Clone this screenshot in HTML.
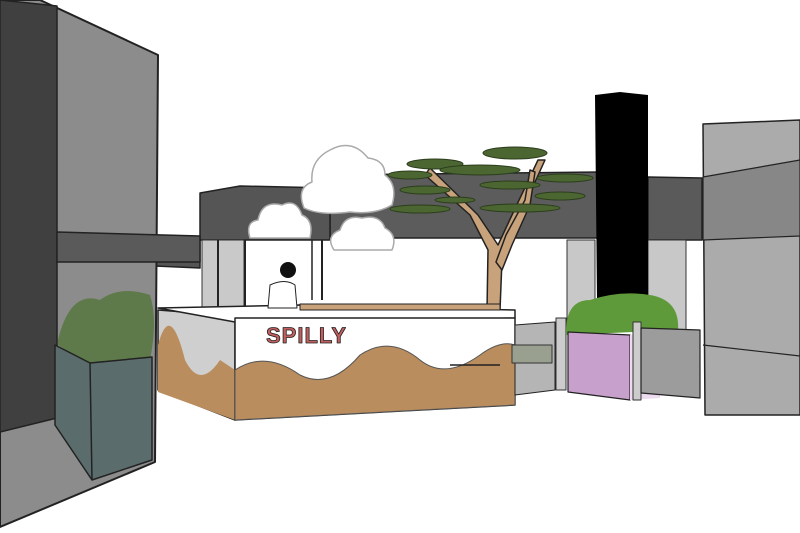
<!DOCTYPE html>
<html><head><style>html,body{margin:0;padding:0;background:#fff;width:800px;height:533px;overflow:hidden}</style></head>
<body>
<svg width="800" height="533" viewBox="0 0 800 533" xmlns="http://www.w3.org/2000/svg" stroke-linejoin="round">
<rect width="800" height="533" fill="#fff"/>
<!-- back band -->
<polygon points="330,175 600,172 600,238 330,238" fill="#5c5c5c" stroke="#222" stroke-width="1.5"/>
<polygon points="648,177 702,178 702,240 648,240" fill="#5a5a5a" stroke="#222" stroke-width="1.5"/>
<rect x="567" y="240" width="28" height="90" fill="#c8c8c8" stroke="#333"/>
<rect x="648" y="240" width="38" height="90" fill="#c8c8c8" stroke="#333"/>
<!-- left back block -->
<polygon points="200,193 240,186 330,188 330,240 200,240" fill="#555" stroke="#222" stroke-width="1.5"/>
<rect x="202" y="240" width="42" height="70" fill="#c9c9c9" stroke="#333"/>
<line x1="218" y1="240" x2="218" y2="308" stroke="#222" stroke-width="2"/>
<line x1="245" y1="240" x2="245" y2="308" stroke="#222" stroke-width="2"/>
<line x1="322" y1="240" x2="322" y2="300" stroke="#222" stroke-width="2"/>
<line x1="312" y1="240" x2="312" y2="300" stroke="#222" stroke-width="1.5"/>
<polygon points="155,238 200,240 200,268 155,266" fill="#555" stroke="#222" stroke-width="1.5"/>
<!-- black column -->
<polygon points="595,95 620,92 648,95 648,300 597,300" fill="#000"/>
<!-- right building -->
<polygon points="703,124 800,120 800,415 705,415" fill="#ababab" stroke="#222" stroke-width="1.5"/>
<polygon points="703,177 800,160 800,236 703,240" fill="#878787" stroke="#222" stroke-width="1.2"/>
<line x1="703" y1="345" x2="800" y2="356" stroke="#222" stroke-width="1.2"/>
<!-- tree -->
<g fill="#c8a27a" stroke="#222" stroke-width="1.5">
<polygon points="487,310 500,310 502,260 520,215 545,160 538,160 512,215 498,245 478,215 430,168 425,175 470,215 488,250"/>
<polygon points="496,262 506,235 525,200 530,170 535,172 530,205 512,245 502,270"/>
</g>
<g fill="#4b6630" stroke="#2c3d1d" stroke-width="1">
<ellipse cx="435" cy="164" rx="28" ry="5"/><ellipse cx="515" cy="153" rx="32" ry="6"/>
<ellipse cx="410" cy="175" rx="22" ry="4"/><ellipse cx="480" cy="170" rx="40" ry="5"/>
<ellipse cx="565" cy="178" rx="28" ry="4"/><ellipse cx="425" cy="190" rx="25" ry="4"/>
<ellipse cx="510" cy="185" rx="30" ry="4"/><ellipse cx="420" cy="209" rx="30" ry="4"/>
<ellipse cx="520" cy="208" rx="40" ry="4"/><ellipse cx="560" cy="196" rx="25" ry="4"/>
<ellipse cx="455" cy="200" rx="20" ry="3"/>
</g>
<!-- clouds -->
<g fill="#fff" stroke="#aaa" stroke-width="1.5">
<path d="M250,238 Q245,222 258,220 Q262,200 282,205 Q296,198 302,215 Q314,220 310,238 Z"/>
<path d="M304,208 Q296,188 312,182 Q310,160 330,150 Q352,138 368,158 Q385,160 385,175 Q398,185 392,205 Q375,215 350,212 Q320,216 304,208 Z"/>
<path d="M334,250 Q325,236 340,230 Q345,214 362,218 Q380,214 385,228 Q398,235 392,250 Z"/>
</g>
<!-- left wall -->
<polygon points="40,0 158,55 155,462 0,527 0,0" fill="#8c8c8c" stroke="#222" stroke-width="2"/>
<polygon points="0,0 57,6 57,418 0,432" fill="#404040" stroke="#222" stroke-width="1.5"/>
<polygon points="57,232 200,236 200,262 57,262" fill="#5a5a5a" stroke="#222" stroke-width="1.5"/>
<!-- left planter -->
<path d="M58,340 Q70,290 100,300 Q120,285 150,295 Q158,320 150,360 L90,365 L58,345 Z" fill="#5f7a4a"/>
<polygon points="55,345 90,363 152,357 152,460 92,480 55,425" fill="#5b6c6c" stroke="#222" stroke-width="1.5"/>
<line x1="90" y1="363" x2="92" y2="480" stroke="#222" stroke-width="1.5"/>
<!-- counter -->
<polygon points="158,310 235,316 235,420 158,390" fill="#cfcfcf" stroke="#222" stroke-width="1.5"/>
<path d="M158,345 Q170,300 185,360 Q200,390 220,360 L235,370 L235,420 L158,392 Z" fill="#b98d5e"/>
<polygon points="158,308 300,305 515,310 515,318 235,322" fill="#fff" stroke="#222" stroke-width="1.5"/>
<rect x="300" y="304" width="200" height="6" fill="#c8a27a" stroke="#222"/>
<polygon points="235,318 515,318 515,405 235,420" fill="#fff" stroke="#222" stroke-width="1.5"/>
<path d="M235,370 Q265,350 300,375 Q330,390 360,355 Q390,335 420,360 Q445,380 480,355 Q500,340 515,345 L515,405 L235,420 Z" fill="#b98d5e" stroke="#555"/>
<line x1="450" y1="365" x2="500" y2="365" stroke="#222" stroke-width="1.5"/>
<text x="266" y="343" font-family="Liberation Sans, sans-serif" font-weight="bold" font-size="22" fill="#c25e5e" stroke="#222" stroke-width="0.8" letter-spacing="1">SPILLY</text>
<!-- person -->
<circle cx="288" cy="270" r="8" fill="#111"/>
<path d="M268,308 L270,285 Q285,278 295,285 L297,308 Z" fill="#fff" stroke="#222"/>
<!-- right items -->
<polygon points="515,325 555,322 555,390 515,395" fill="#b5b5b5" stroke="#222"/>
<rect x="512" y="345" width="40" height="18" fill="#9aa090" stroke="#333"/>
<rect x="556" y="318" width="10" height="72" fill="#ccc" stroke="#333"/>
<path d="M566,335 Q565,300 590,300 Q620,290 650,295 Q680,300 678,330 L566,335 Z" fill="#5f9a3a"/>
<polygon points="568,332 630,335 630,400 568,392" fill="#c7a0cc" stroke="#222" stroke-width="1.2"/>
<polygon points="630,335 660,332 660,398 630,400" fill="#eedaf0"/>
<rect x="633" y="322" width="8" height="78" fill="#ccc" stroke="#333"/>
<polygon points="641,328 700,330 700,398 641,393" fill="#9c9c9c" stroke="#222" stroke-width="1.2"/>
</svg>
</body></html>
